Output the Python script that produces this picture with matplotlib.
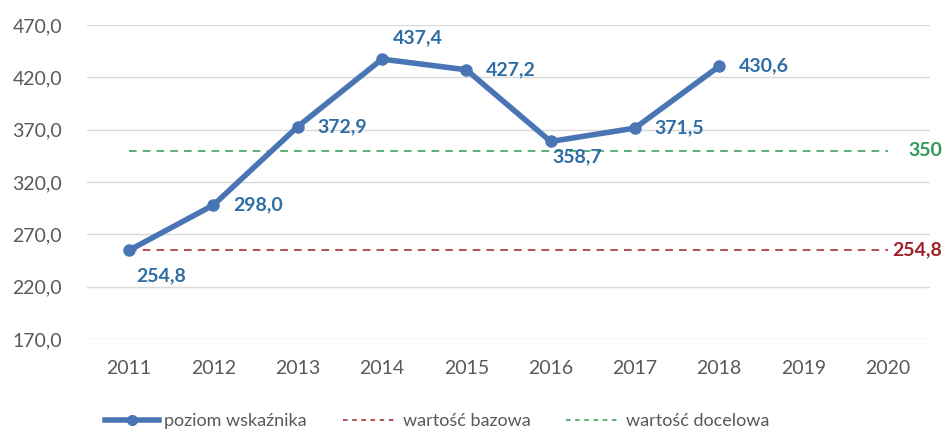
import matplotlib
matplotlib.use("Agg")
import matplotlib.pyplot as plt
from matplotlib.lines import Line2D

years = ["2011", "2012", "2013", "2014", "2015", "2016", "2017", "2018", "2019", "2020"]
values = [254.8, 298.0, 372.9, 437.4, 427.2, 358.7, 371.5, 430.6]
value_labels = ["254,8", "298,0", "372,9", "437,4", "427,2", "358,7", "371,5", "430,6"]
base_value = 254.8
base_label = "254,8"
target_value = 350
target_label = "350"
y_ticks = [170, 220, 270, 320, 370, 420, 470]
y_tick_labels = ["170,0", "220,0", "270,0", "320,0", "370,0", "420,0", "470,0"]
legend_labels = ["poziom wskaźnika", "wartość bazowa", "wartość docelowa"]

# label offsets in points (dx, dy, ha, va)
label_offsets = [(5, -12, "left", "top"), (14, 0, "left", "center"), (14, 0, "left", "center"),
                 (8, 9, "left", "bottom"), (14, 0, "left", "center"), (1, -5, "left", "top"),
                 (14, 0, "left", "center"), (14, 0, "left", "center")]

plt.rcParams['font.family'] = ['Lato', 'DejaVu Sans']

line_col = "#4A75B5"
lab_col = "#2F6EA5"
red = "#A0202A"
green = "#2E9A55"

fig = plt.figure(figsize=(9.46, 4.32), dpi=100)
ax = fig.add_axes([87/946, 1 - 339/432, (930 - 87)/946, (339 - 25)/432])
x = list(range(len(years)))
n = len(values)

ax.set_xlim(-0.5, len(years) - 0.5)
ax.set_ylim(170, 470)
ax.set_yticks(y_ticks)
ax.set_yticklabels(y_tick_labels)
ax.set_xticks(x)
ax.set_xticklabels(years)
ax.grid(axis="y", color="#D9D9D9", linewidth=1)
ax.set_axisbelow(True)
for s in ax.spines.values():
    s.set_visible(False)
ax.tick_params(axis="both", length=0, colors="#595959", labelsize=14)
ax.tick_params(axis="y", pad=18)
ax.tick_params(axis="x", pad=15)

ax.plot(x[:], [base_value] * len(years), color=red, linestyle=(0, (5, 4)), linewidth=1.1, zorder=2)
ax.plot(x[:], [target_value] * len(years), color=green, linestyle=(0, (5, 4)), linewidth=1.1, zorder=2)
ax.plot(x[:n], values, color=line_col, linewidth=4, marker="o", markersize=8, zorder=3,
        solid_capstyle="round")

for i, (v, t) in enumerate(zip(values, value_labels)):
    dx, dy, ha, va = label_offsets[i]
    ax.annotate(t, (x[i], v), xytext=(dx, dy), textcoords="offset points", ha=ha, va=va,
                color=lab_col, fontsize=14, fontweight="bold", zorder=4)

ax.annotate(target_label, (x[-1], target_value), xytext=(39, 0), textcoords="offset points",
            ha="right", va="center", color=green, fontsize=14, fontweight="bold")
ax.annotate(base_label, (x[-1], base_value), xytext=(39, 0), textcoords="offset points",
            ha="right", va="center", color=red, fontsize=14, fontweight="bold")

handles = [Line2D([], [], color=line_col, linewidth=4, marker="o", markersize=7),
           Line2D([], [], color=red, linestyle=(0, (3, 3)), linewidth=1.1),
           Line2D([], [], color=green, linestyle=(0, (3, 3)), linewidth=1.1)]
leg = fig.legend(handles, legend_labels, loc="center", bbox_to_anchor=(437/946, 1 - 421/432),
                 ncol=3, frameon=False, fontsize=13, handlelength=3.0, handletextpad=0.3,
                 columnspacing=2.0, labelcolor="#595959")

fig.savefig("out.png", dpi=100)
